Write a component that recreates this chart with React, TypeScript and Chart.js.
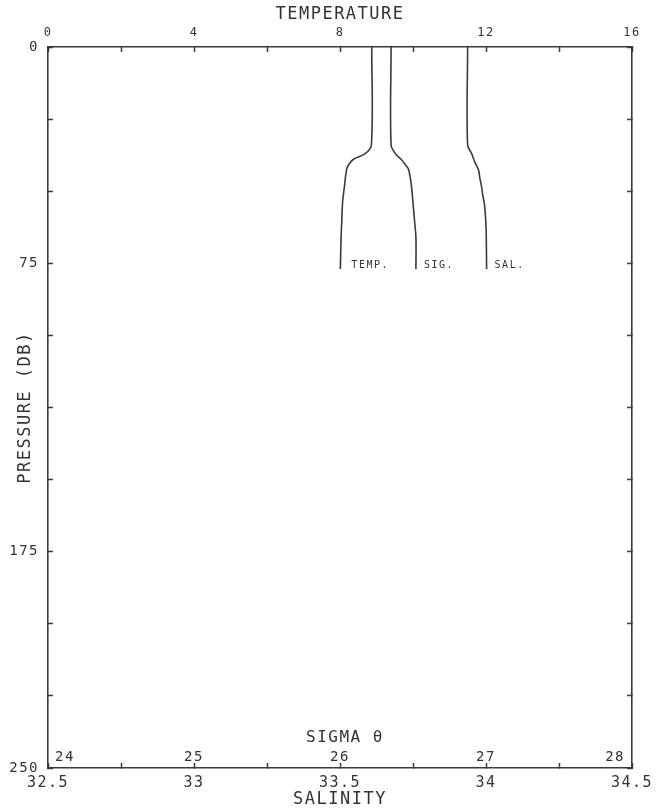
import React, { useEffect, useRef } from "react";
import { Chart, registerables } from "chart.js";

Chart.register(...registerables);

// ---- Data (pressure in dbar) ----
const tempPressure = [0, 34, 37, 39, 41, 42.5, 48.5, 54, 60, 66, 77];
const temperature = [8.87, 8.86, 8.69, 8.36, 8.23, 8.18, 8.12, 8.07, 8.05, 8.03, 8.01];

const sigmaPressure = [0, 34, 37, 39, 41, 42.5, 48.5, 54, 60, 66, 77];
const sigmaTheta = [26.35, 26.35, 26.38, 26.42, 26.45, 26.47, 26.49, 26.5, 26.51, 26.52, 26.52];

const salPressure = [0, 34, 37, 40, 42.5, 45.5, 48.5, 51.5, 54, 60, 66, 77];
const salinity = [33.937, 33.937, 33.951, 33.962, 33.974, 33.979, 33.985, 33.989, 33.994, 33.999, 34.001, 34.002];

const curveLabels = ["TEMP.", "SIG.", "SAL."];

const pressureLabels = [0, 75, 175, 250];
const temperatureLabels = [0, 4, 8, 12, 16];
const salinityLabels = [32.5, 33, 33.5, 34, 34.5];
const sigmaLabels = [24, 25, 26, 27, 28];

const FONT = "'DejaVu Sans Mono', 'Liberation Mono', monospace";
const INK = "#333333";
const LINE = "#3a3a3a";
const SPACING = "1.5px";

const zip = (xs: number[], ys: number[]) => xs.map((x, i) => ({ x, y: ys[i] }));

export default function App() {
  const ref = useRef<HTMLCanvasElement | null>(null);

  useEffect(() => {
    if (!ref.current) return;

    const spacingPlugin = {
      id: "spacing",
      beforeLayout(chart: any) {
        chart.ctx.letterSpacing = SPACING;
      },
      beforeDraw(chart: any) {
        chart.ctx.letterSpacing = SPACING;
        const ctx = chart.ctx;
        ctx.save();
        ctx.fillStyle = "#ffffff";
        ctx.fillRect(0, 0, chart.width, chart.height);
        ctx.restore();
      },
      afterDraw(chart: any) {
        const ctx = chart.ctx;
        const area = chart.chartArea;
        const sig = chart.scales.xSig;
        const y = chart.scales.y;
        ctx.save();
        ctx.letterSpacing = SPACING;
        ctx.fillStyle = INK;
        ctx.textBaseline = "middle";

        // Sigma-theta scale labels inside the plot
        ctx.font = `14px ${FONT}`;
        sigmaLabels.forEach((v, i) => {
          let x = sig.getPixelForValue(v);
          if (i === 0) {
            ctx.textAlign = "left";
            x += 7;
          } else if (i === sigmaLabels.length - 1) {
            ctx.textAlign = "right";
            x -= 7;
          } else {
            ctx.textAlign = "center";
          }
          ctx.fillText(String(v), x, area.bottom - 11);
        });
        ctx.font = `16px ${FONT}`;
        ctx.textAlign = "center";
        ctx.fillText("SIGMA θ", sig.getPixelForValue(26) + 5, area.bottom - 30);

        // Curve labels at the bottom end of each profile
        ctx.font = `10px ${FONT}`;
        ctx.textAlign = "left";
        chart.data.datasets.forEach((ds: any, i: number) => {
          const meta = chart.getDatasetMeta(i);
          const pts = meta.data;
          const last = pts[pts.length - 1];
          const gap = i === 0 ? 11 : 8;
          ctx.fillText(curveLabels[i], last.x + gap, y.getPixelForValue(75.9));
        });
        ctx.restore();
      },
    };

    const tickGrid = {
      display: true,
      drawOnChartArea: false,
      drawTicks: true,
      tickLength: -5,
      tickWidth: 1.5,
      tickColor: LINE,
    };
    const border = { display: true, color: LINE, width: 1.6 };

    const noPad = (s: any) => {
      s.paddingLeft = 0;
      s.paddingRight = 0;
      s.paddingTop = 0;
      s.paddingBottom = 0;
    };

    const chart = new Chart(ref.current, {
      type: "line",
      data: {
        datasets: [
          {
            label: "Temperature",
            data: zip(temperature, tempPressure),
            xAxisID: "xTemp",
            yAxisID: "y",
            borderColor: LINE,
            borderWidth: 1.6,
            pointRadius: 0,
            tension: 0.35,
            fill: false,
          },
          {
            label: "Sigma theta",
            data: zip(sigmaTheta, sigmaPressure),
            xAxisID: "xSig",
            yAxisID: "y",
            borderColor: LINE,
            borderWidth: 1.6,
            pointRadius: 0,
            tension: 0.35,
            fill: false,
          },
          {
            label: "Salinity",
            data: zip(salinity, salPressure),
            xAxisID: "xSal",
            yAxisID: "y",
            borderColor: LINE,
            borderWidth: 1.6,
            pointRadius: 0,
            tension: 0.35,
            fill: false,
          },
        ],
      },
      options: {
        animation: false,
        responsive: true,
        maintainAspectRatio: false,
        layout: { padding: 0 },
        plugins: {
          legend: { display: false },
          tooltip: { enabled: false },
        },
        scales: {
          xTemp: {
            type: "linear",
            position: "top",
            min: 0,
            max: 16,
            grid: tickGrid,
            border,
            ticks: {
              stepSize: 2,
              autoSkip: false,
              maxRotation: 0,
              padding: 12,
              color: INK,
              font: { family: FONT, size: 12 },
              callback: (v: any) => (temperatureLabels.includes(Number(v)) ? String(v) : ""),
            },
            title: {
              display: true,
              text: "TEMPERATURE",
              color: INK,
              font: { family: FONT, size: 17 },
              padding: { top: 4, bottom: 0 },
            },
            afterFit: (s: any) => {
              s.height = 47;
              noPad(s);
            },
          },
          xSal: {
            type: "linear",
            position: "bottom",
            min: 32.5,
            max: 34.5,
            grid: tickGrid,
            border,
            ticks: {
              stepSize: 0.25,
              autoSkip: false,
              maxRotation: 0,
              padding: 11,
              color: INK,
              font: { family: FONT, size: 15 },
              callback: (v: any) => (salinityLabels.some((s) => Math.abs(s - Number(v)) < 1e-6) ? String(v) : ""),
            },
            title: {
              display: true,
              text: "SALINITY",
              color: INK,
              font: { family: FONT, size: 17 },
              padding: { top: 0, bottom: 2 },
            },
            afterFit: (s: any) => {
              s.height = 44;
              noPad(s);
            },
          },
          xSig: {
            type: "linear",
            position: "bottom",
            min: 24,
            max: 28,
            display: false,
          },
          y: {
            type: "linear",
            position: "left",
            reverse: true,
            min: 0,
            max: 250,
            grid: tickGrid,
            border,
            ticks: {
              stepSize: 25,
              autoSkip: false,
              padding: 14,
              color: INK,
              font: { family: FONT, size: 14 },
              callback: (v: any) => (pressureLabels.includes(Number(v)) ? String(v) : ""),
            },
            title: {
              display: true,
              text: "PRESSURE (DB)",
              color: INK,
              font: { family: FONT, size: 17 },
              padding: { top: 15, bottom: 0 },
            },
            afterFit: (s: any) => {
              s.width = 48;
              noPad(s);
            },
          },
          y2: {
            type: "linear",
            position: "right",
            reverse: true,
            min: 0,
            max: 250,
            grid: tickGrid,
            border,
            ticks: {
              stepSize: 25,
              autoSkip: false,
              callback: () => "",
            },
            afterFit: (s: any) => {
              s.width = 29;
              noPad(s);
            },
          },
        },
      },
      plugins: [spacingPlugin],
    } as any);

    return () => chart.destroy();
  }, []);

  return (
    <div
      style={{
        position: "fixed",
        left: 0,
        top: 0,
        width: 661,
        height: 812,
        background: "#ffffff",
      }}
    >
      <canvas ref={ref} />
    </div>
  );
}
